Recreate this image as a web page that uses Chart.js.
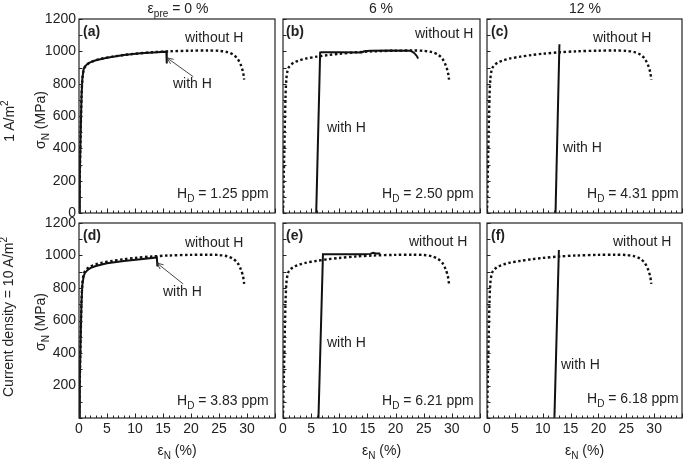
<!DOCTYPE html>
<html><head><meta charset="utf-8">
<script src="https://cdn.jsdelivr.net/npm/chart.js@4.4.0/dist/chart.umd.min.js"></script>
<style>
html,body{margin:0;padding:0;background:#fff;width:685px;height:461px;overflow:hidden;}
body{position:relative;font-family:"Liberation Sans",Arial,sans-serif;color:#222;}
canvas{position:absolute;}
.t{position:absolute;white-space:nowrap;font-size:14px;line-height:16px;transform:translate(0,-50%);}
.c{transform:translate(-50%,-50%);}
.r{transform:translate(-50%,-50%) rotate(-90deg);}
.b{font-weight:bold;}
sub{font-size:10px;vertical-align:-4px;line-height:0;}
sup{font-size:10px;vertical-align:6px;line-height:0;}
</style></head><body>
<script>
// ---------------- DATA ----------------
const strainTickStep = 5;          // x labels 0..30
const stressTickStep = 200;        // y labels 0..1200
const strainMax = 35, stressMax = 1200;
const columnTitles = ['0 %', '6 %', '12 %'];
const panelLetters = ['(a)', '(b)', '(c)', '(d)', '(e)', '(f)'];
const hdValues = ['1.25', '2.50', '4.31', '3.83', '6.21', '6.18'];

// "without H" reference curve (dotted), same in all panels
const noH_strain = [0, 0.15, 0.3, 0.45, 0.6, 0.8, 1.0, 1.5, 2, 3, 4, 6, 8, 10, 13, 16, 20, 23, 25, 26.5, 27.5, 28.3, 28.9, 29.3, 29.5];
const noH_stress = [0, 250, 500, 720, 830, 880, 900, 920, 932, 945, 955, 967, 977, 985, 994, 1000, 1004, 1005, 1003, 995, 980, 955, 915, 870, 825];

// "with H" curves (solid)
const a_strain = [0, 0.15, 0.3, 0.45, 0.6, 0.8, 1.0, 1.5, 2, 3, 5, 8, 11, 14, 15.6, 15.65, 15.7];
const a_stress = [0, 250, 500, 720, 830, 885, 905, 922, 932, 945, 960, 977, 988, 995, 998, 960, 925];
const b_strain = [5.9, 6.6, 6.8, 10, 14, 14.4, 15.5, 19, 22.7, 23.3, 23.8, 24.0];
const b_stress = [0, 993, 995, 995, 993, 1000, 1004, 1005, 1003, 990, 970, 955];
const c_strain = [12.3, 13.0];
const c_stress = [0, 1044];
const d_strain = [0, 0.15, 0.3, 0.45, 0.6, 0.8, 1.0, 1.5, 2, 3, 5, 8, 11, 13.9, 13.95, 14.0];
const d_stress = [0, 250, 500, 720, 820, 865, 890, 910, 922, 935, 952, 966, 977, 988, 960, 933];
const e_strain = [6.3, 7.1, 10, 14, 15.5, 16, 16.5, 17.3];
const e_stress = [0, 1007, 1008, 1008, 1010, 1016, 1012, 1013];
const f_strain = [12.1, 12.9];
const f_stress = [0, 1034];

// arrows (tail strain, tail stress, head strain, head stress)
const arrowA = [20.4, 843, 15.7, 960];
const arrowD = [18.6, 825, 13.9, 954];

// ---------------- LAYOUT ----------------
const FONT = '"Liberation Sans", Arial, sans-serif';
const cols = [{L: 79, R: 275}, {L: 283, R: 480}, {L: 487, R: 682}];
const rows = [{T: 19, B: 213}, {T: 223, B: 418}];
const YW = 79, XH = 25, PADR = 3, PADT = 19;
const withSets = [[a_strain, a_stress], [b_strain, b_stress], [c_strain, c_stress],
                  [d_strain, d_stress], [e_strain, e_stress], [f_strain, f_stress]];
const arrows = [arrowA, null, null, arrowD, null, null];

function pts(xs, ys) { return xs.map((x, i) => ({x: x, y: ys[i]})); }

const framePlugin = {
  id: 'frame',
  afterDraw(chart, args, opts) {
    const {ctx, chartArea: ca, scales} = chart;
    const x = scales.x, y = scales.y;
    ctx.save();
    ctx.strokeStyle = '#222';
    ctx.lineWidth = 1.2;
    ctx.strokeRect(ca.left, ca.top, ca.right - ca.left, ca.bottom - ca.top);
    ctx.lineWidth = 1;
    ctx.beginPath();
    for (let v = 0; v <= stressMax; v += 100) {
      const p = Math.round(y.getPixelForValue(v)) + 0.5;
      ctx.moveTo(ca.left, p); ctx.lineTo(ca.left + 3.5, p);
    }
    for (let v = 0; v <= strainMax; v += 1) {
      const p = Math.round(x.getPixelForValue(v)) + 0.5;
      const len = (v % 5 === 0) ? 4.5 : 2.5;
      ctx.moveTo(p, ca.bottom); ctx.lineTo(p, ca.bottom - len);
    }
    ctx.stroke();
    if (opts.arrow) {
      const a = opts.arrow;
      const x0 = x.getPixelForValue(a[0]), y0 = y.getPixelForValue(a[1]);
      const x1 = x.getPixelForValue(a[2]), y1 = y.getPixelForValue(a[3]);
      ctx.strokeStyle = '#333';
      ctx.lineWidth = 0.9;
      ctx.beginPath(); ctx.moveTo(x0, y0); ctx.lineTo(x1, y1); ctx.stroke();
      const ang = Math.atan2(y1 - y0, x1 - x0), hl = 7;
      ctx.beginPath();
      ctx.moveTo(x1 - hl * Math.cos(ang - 0.4), y1 - hl * Math.sin(ang - 0.4));
      ctx.lineTo(x1, y1);
      ctx.lineTo(x1 - hl * Math.cos(ang + 0.4), y1 - hl * Math.sin(ang + 0.4));
      ctx.stroke();
    }
    ctx.restore();
  }
};

for (let r = 0; r < 2; r++) {
  for (let c = 0; c < 3; c++) {
    const i = r * 3 + c;
    const {L, R} = cols[c], {T, B} = rows[r];
    const cv = document.createElement('canvas');
    const w = YW + (R - L) + PADR, h = PADT + (B - T) + XH;
    const top = T - PADT;
    cv.width = w; cv.height = h;
    cv.style.left = (L - YW) + 'px'; cv.style.top = top + 'px';
    cv.style.width = w + 'px'; cv.style.height = h + 'px';
    document.body.appendChild(cv);
    new Chart(cv, {
      type: 'scatter',
      data: {datasets: [
        {data: pts(withSets[i][0], withSets[i][1]), showLine: true, borderColor: '#111', borderWidth: 2, pointRadius: 0, tension: 0},
        {data: pts(noH_strain, noH_stress), showLine: true, borderColor: '#111', borderWidth: 2.4, borderDash: [2.5, 2.5], pointRadius: 0, tension: 0.3}
      ]},
      options: {
        responsive: false, animation: false, devicePixelRatio: 1,
        layout: {padding: {top: PADT, right: PADR, left: 0, bottom: 0}},
        plugins: {legend: {display: false}, tooltip: {enabled: false}, frame: {arrow: arrows[i]}},
        scales: {
          x: {type: 'linear', min: 0, max: strainMax,
              grid: {display: false, drawTicks: false}, border: {display: false},
              ticks: {display: r === 1, stepSize: strainTickStep, autoSkip: false, maxRotation: 0, padding: 3,
                      color: '#222', font: {family: FONT, size: 14},
                      callback: v => (v <= 30 ? String(v) : '')},
              afterFit: s => { s.height = XH; }},
          y: {type: 'linear', min: 0, max: stressMax,
              grid: {display: false, drawTicks: false}, border: {display: false},
              ticks: {display: c === 0, stepSize: stressTickStep, autoSkip: false, padding: 3,
                      color: '#222', font: {family: FONT, size: 14},
                      callback: v => (r === 1 && v === 0 ? '' : String(v))},
              afterFit: s => { s.width = YW; }}
        }
      },
      plugins: [framePlugin]
    });
  }
}

// ---------------- TEXT ----------------
function addText(html, x, y, cls) {
  const d = document.createElement('div');
  d.className = 't ' + (cls || '');
  d.style.left = x + 'px'; d.style.top = y + 'px';
  d.innerHTML = html;
  document.body.appendChild(d);
}
addText('ε<sub>pre</sub> = ' + columnTitles[0], 178, 8, 'c');
addText(columnTitles[1], 381, 8, 'c');
addText(columnTitles[2], 585, 8, 'c');
const letterPos = [[83, 31], [286, 31], [491, 31], [83, 235], [286, 235], [491, 235]];
const withoutPos = [[185, 37], [415, 33], [593, 37], [185, 242], [409, 241], [613, 241]];
const withPos = [[173, 83], [327, 127], [563, 147], [163, 291], [327, 342], [561, 364]];
const hdPos = [[177, 193], [382, 193], [587, 193], [177, 400], [382, 400], [587, 398]];
for (let i = 0; i < 6; i++) {
  addText(panelLetters[i], letterPos[i][0], letterPos[i][1], 'b');
  addText('without H', withoutPos[i][0], withoutPos[i][1]);
  addText('with H', withPos[i][0], withPos[i][1]);
  addText('H<sub>D</sub> = ' + hdValues[i] + ' ppm', hdPos[i][0], hdPos[i][1]);
}
for (let c = 0; c < 3; c++) {
  addText('ε<sub>N</sub> (%)', (cols[c].L + cols[c].R) / 2, 450, 'c');
}
addText('σ<sub>N</sub> (MPa)', 40, 120, 'r');
addText('σ<sub>N</sub> (MPa)', 40, 322, 'r');
addText('1 A/m<sup>2</sup>', 9, 121, 'r');
addText('Current density = 10 A/m<sup>2</sup>', 8, 317, 'r');
</script>
</body></html>
